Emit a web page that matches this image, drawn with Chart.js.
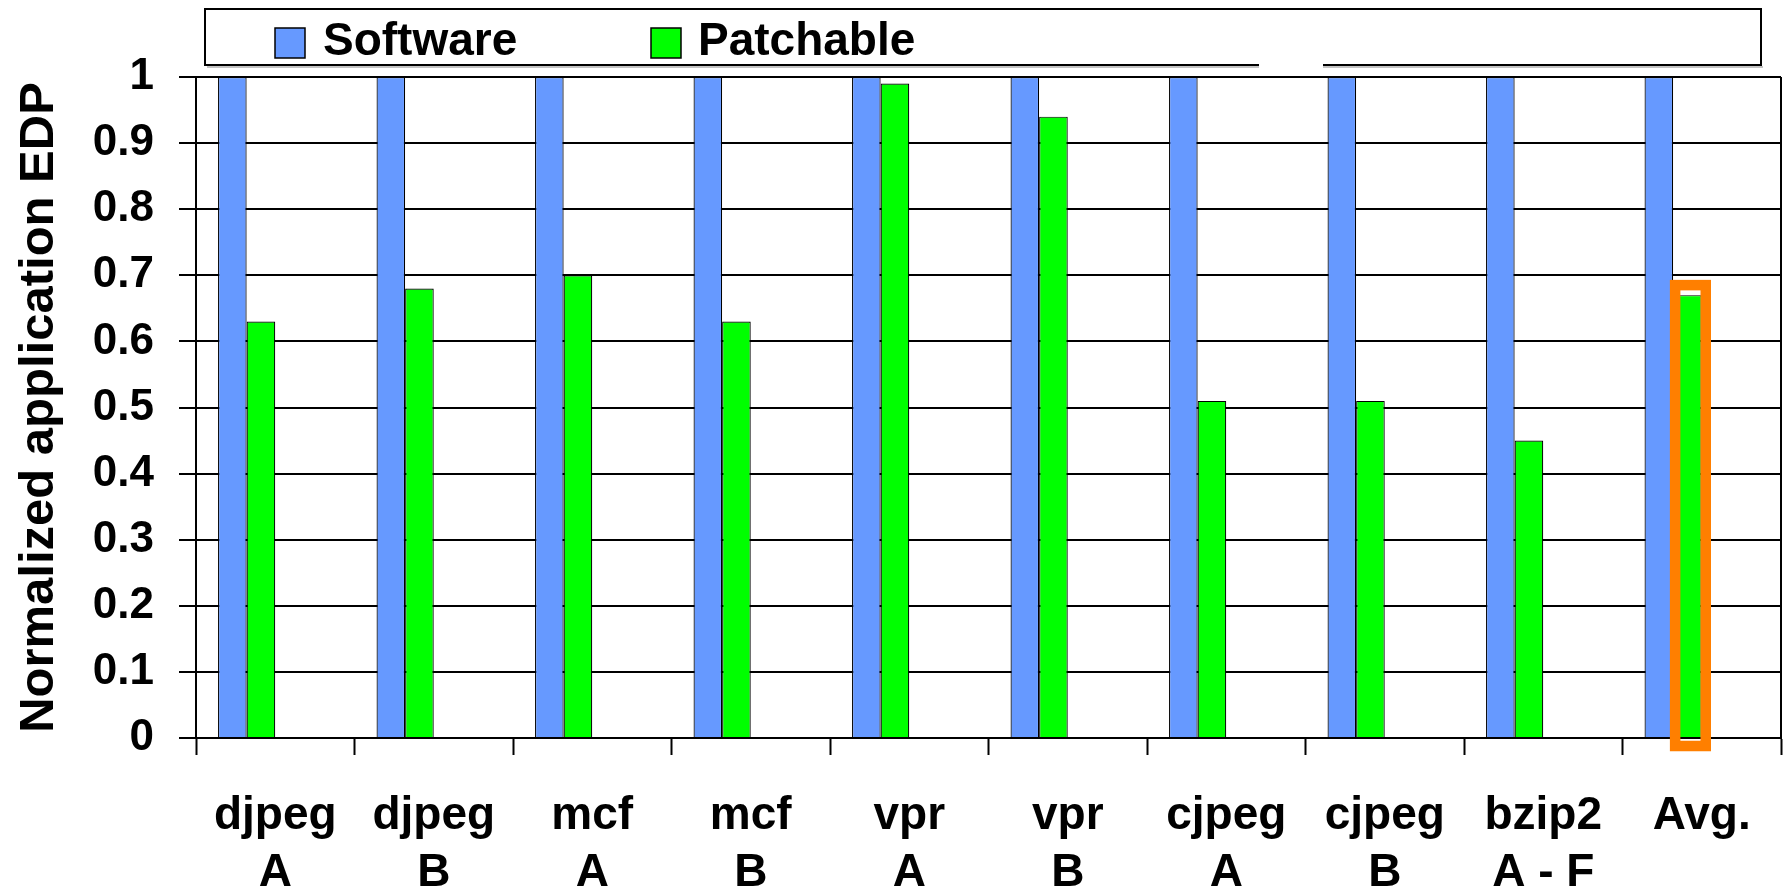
<!DOCTYPE html>
<html>
<head>
<meta charset="utf-8">
<title>Normalized application EDP</title>
<script src="https://cdn.jsdelivr.net/npm/chart.js@4/dist/chart.umd.min.js"></script>
<style>
  html, body { margin: 0; padding: 0; background: #ffffff; }
  canvas { display: block; }
</style>
</head>
<body>
<canvas id="edp" width="1784" height="894"></canvas>
<script>
// Benchmarks (two-line labels) and normalized EDP per configuration
const categories = [
  ['djpeg', 'A'], ['djpeg', 'B'], ['mcf', 'A'], ['mcf', 'B'], ['vpr', 'A'],
  ['vpr', 'B'], ['cjpeg', 'A'], ['cjpeg', 'B'], ['bzip2', 'A - F'], ['Avg.', '']
];
const softwareEdp  = [1, 1, 1, 1, 1, 1, 1, 1, 1, 1];
const patchableEdp = [0.63, 0.68, 0.70, 0.63, 0.99, 0.94, 0.51, 0.51, 0.45, 0.67];
const yTickLabels  = ['0', '0.1', '0.2', '0.3', '0.4', '0.5', '0.6', '0.7', '0.8', '0.9', '1'];
const seriesNames  = ['Software', 'Patchable'];
const seriesColors = ['#6699ff', '#00ff00'];
const highlightIndex = categories.length - 1;   // the average pair gets an orange frame

const FONT = '"Liberation Sans", Arial, Helvetica, sans-serif';

// Legend drawn as a framed strip above the plot
const legendStrip = {
  id: 'legendStrip',
  afterDraw(chart) {
    const ctx = chart.ctx;
    const x0 = 205, y0 = 9, x1 = 1761, y1 = 65;
    const gapL = 1259, gapR = 1323;
    ctx.save();
    // faint shadow below the lower edge
    ctx.strokeStyle = '#b0b0b0';
    ctx.lineWidth = 1.5;
    ctx.beginPath();
    ctx.moveTo(x0 + 2, y1 + 2); ctx.lineTo(gapL, y1 + 2);
    ctx.moveTo(gapR, y1 + 2); ctx.lineTo(x1 + 2, y1 + 2);
    ctx.stroke();
    ctx.strokeStyle = '#000000';
    ctx.lineWidth = 2;
    ctx.beginPath();
    ctx.moveTo(gapL, y1); ctx.lineTo(x0, y1); ctx.lineTo(x0, y0);
    ctx.lineTo(x1, y0); ctx.lineTo(x1, y1); ctx.lineTo(gapR, y1);
    ctx.stroke();

    const items = [{ box: 275, text: 323 }, { box: 651, text: 698 }];
    ctx.font = 'bold 46px ' + FONT;
    ctx.textBaseline = 'middle';
    ctx.textAlign = 'left';
    items.forEach((it, i) => {
      const ds = chart.data.datasets[i];
      ctx.fillStyle = ds.backgroundColor;
      ctx.fillRect(it.box, 28, 30, 30);
      ctx.lineWidth = 1.5;
      ctx.strokeStyle = '#000000';
      ctx.strokeRect(it.box, 28, 30, 30);
      ctx.fillStyle = '#000000';
      ctx.fillText(ds.label, it.text, 42);
    });
    ctx.restore();
  }
};

// Right-hand frame edge and the orange frame around the highlighted bar
const plotDecor = {
  id: 'plotDecor',
  afterDatasetsDraw(chart) {
    const ctx = chart.ctx;
    const area = chart.chartArea;
    ctx.save();
    ctx.strokeStyle = '#000000';
    ctx.lineWidth = 2;
    ctx.beginPath();
    ctx.moveTo(area.right, area.top);
    ctx.lineTo(area.right, area.bottom);
    ctx.stroke();

    const bar = chart.getDatasetMeta(1).data[highlightIndex];
    if (bar) {
      const p = bar.getProps(['x', 'y', 'base', 'width'], true);
      const left = p.x - p.width / 2 + 2;
      const right = p.x + p.width / 2 + 4;
      const top = p.y - 10;
      const bottom = p.base + 9;
      ctx.strokeStyle = '#ff7f00';
      ctx.lineWidth = 10.5;
      ctx.strokeRect(left, top, right - left, bottom - top);
    }
    ctx.restore();
  }
};

new Chart(document.getElementById('edp'), {
  type: 'bar',
  data: {
    labels: categories,
    datasets: [
      { label: seriesNames[0], data: softwareEdp, backgroundColor: seriesColors[0],
        borderColor: '#000000', borderWidth: 1.2 },
      { label: seriesNames[1], data: patchableEdp, backgroundColor: seriesColors[1],
        borderColor: '#000000', borderWidth: 1.2 },
      // two empty slots reserve room on the right side of every category
      { label: '', data: [], backgroundColor: 'rgba(0,0,0,0)' },
      { label: '', data: [], backgroundColor: 'rgba(0,0,0,0)' }
    ]
  },
  options: {
    responsive: false,
    animation: false,
    devicePixelRatio: 1,
    layout: { padding: { top: 77, left: 0, right: 3, bottom: 0 } },
    datasets: { bar: { categoryPercentage: 0.722, barPercentage: 1.0 } },
    plugins: {
      legend: { display: false },
      title: { display: false },
      tooltip: { enabled: false }
    },
    scales: {
      x: {
        afterFit(scale) { scale.height = 156; },
        grid: {
          offset: true,
          drawOnChartArea: false,
          drawTicks: true,
          tickLength: 17,
          tickColor: '#000000',
          tickWidth: 2
        },
        border: { display: true, color: '#000000', width: 2 },
        ticks: {
          color: '#000000',
          padding: 33,
          maxRotation: 0,
          autoSkip: false,
          font: { family: FONT, size: 46, weight: 'bold', lineHeight: 1.24 }
        }
      },
      y: {
        min: 0,
        max: 1,
        afterFit(scale) { scale.width = 196; },
        grid: {
          color: '#000000',
          lineWidth: 2,
          drawTicks: true,
          tickLength: 17,
          tickColor: '#000000',
          tickWidth: 2
        },
        border: { display: true, color: '#000000', width: 2 },
        ticks: {
          stepSize: 0.1,
          color: '#000000',
          padding: 25,
          font: { family: FONT, size: 44, weight: 'bold' },
          callback: (value, index) => yTickLabels[index]
        },
        title: {
          display: true,
          text: 'Normalized application EDP',
          color: '#000000',
          padding: { top: 10, bottom: 0 },
          font: { family: FONT, size: 49, weight: 'bold', lineHeight: 1.2 }
        }
      }
    }
  },
  plugins: [legendStrip, plotDecor]
});
</script>
</body>
</html>
